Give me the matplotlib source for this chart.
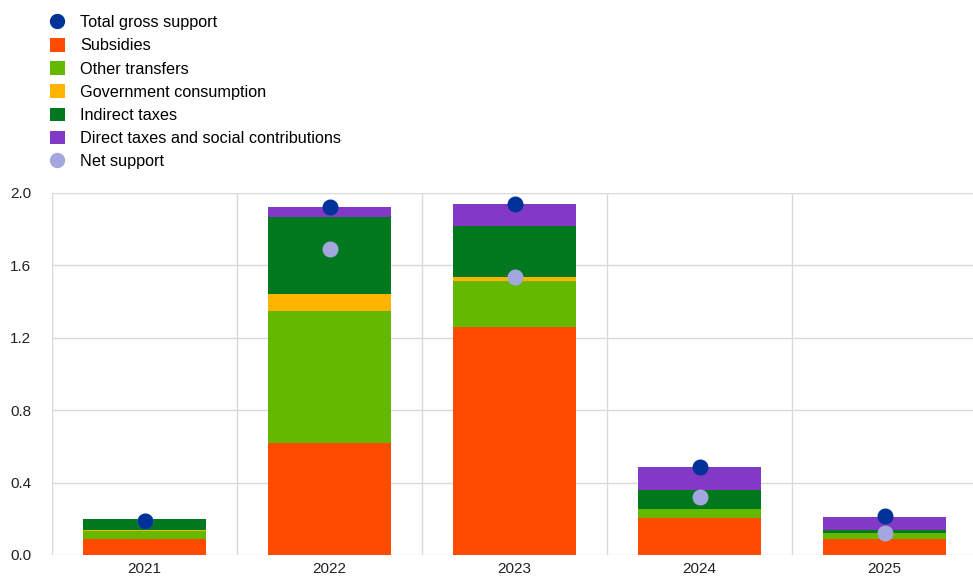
import matplotlib
matplotlib.use("Agg")
import matplotlib.pyplot as plt
from matplotlib.lines import Line2D
from matplotlib.patches import Patch
import numpy as np

plt.rcParams['font.family'] = ['Liberation Sans', 'DejaVu Sans']

years = ["2021", "2022", "2023", "2024", "2025"]
subsidies = [0.09, 0.62, 1.26, 0.205, 0.087]
other_transfers = [0.045, 0.73, 0.255, 0.05, 0.033]
gov_consumption = [0.005, 0.09, 0.02, 0.0, 0.0]
indirect_taxes = [0.06, 0.43, 0.285, 0.105, 0.018]
direct_taxes = [0.0, 0.05, 0.12, 0.125, 0.074]
total_gross = [0.19, 1.92, 1.94, 0.488, 0.215]
net_support = [0.19, 1.69, 1.534, 0.322, 0.123]

series = [
    ("Subsidies", subsidies, "#ff4b00"),
    ("Other transfers", other_transfers, "#65b800"),
    ("Government consumption", gov_consumption, "#ffb400"),
    ("Indirect taxes", indirect_taxes, "#00781e"),
    ("Direct taxes and social contributions", direct_taxes, "#8139c6"),
]
c_gross = "#003299"
c_net = "#a4a7de"

W, H = 973, 582
fig = plt.figure(figsize=(W / 100, H / 100), dpi=100)
left, right, top, bottom = 52, 977, 193, 555
ax = fig.add_axes([left / W, 1 - bottom / H, (right - left) / W, (bottom - top) / H])

x = np.arange(len(years))
base = np.zeros(len(years))
for name, vals, col in series:
    ax.bar(x, vals, width=0.665, bottom=base, color=col, zorder=2, linewidth=0)
    base += np.array(vals)

ax.plot(x, net_support, 'o', color=c_net, markersize=10.5, zorder=3, linestyle='none')
ax.plot(x, total_gross, 'o', color=c_gross, markersize=10.5, zorder=4, linestyle='none')

ax.set_xlim(-0.5, len(years) - 0.5)
ax.set_ylim(0, 2.0)
ax.set_yticks([0.0, 0.4, 0.8, 1.2, 1.6, 2.0])
ax.set_yticklabels(["0.0", "0.4", "0.8", "1.2", "1.6", "2.0"])
ax.set_xticks(x)
ax.set_xticklabels(years)
ax.set_xticks(np.arange(len(years) + 1) - 0.5, minor=True)
ax.grid(True, axis='y', color='#d9d9d9', linewidth=1, zorder=0)
ax.grid(True, axis='x', which='minor', color='#d9d9d9', linewidth=1, zorder=0)
ax.grid(False, axis='x', which='major')
for s in ax.spines.values():
    s.set_visible(False)
ax.tick_params(axis='both', which='both', length=0, labelsize=11, colors='#222222')
ax.tick_params(axis='y', pad=15)
ax.tick_params(axis='x', pad=5)

handles = [Line2D([], [], marker='o', color=c_gross, linestyle='none', markersize=10)]
labels = ["Total gross support"]
for name, vals, col in series:
    handles.append(Patch(facecolor=col, edgecolor='none'))
    labels.append(name)
handles.append(Line2D([], [], marker='o', color=c_net, linestyle='none', markersize=10))
labels.append("Net support")

fig.legend(handles, labels, loc='upper left', bbox_to_anchor=(50 / W, 1 - 15 / H),
           frameon=False, fontsize=11.7, handlelength=0.9, handleheight=0.9,
           handletextpad=0.95, labelspacing=0.48, borderaxespad=0, borderpad=0)

fig.savefig("out.png", dpi=100)
